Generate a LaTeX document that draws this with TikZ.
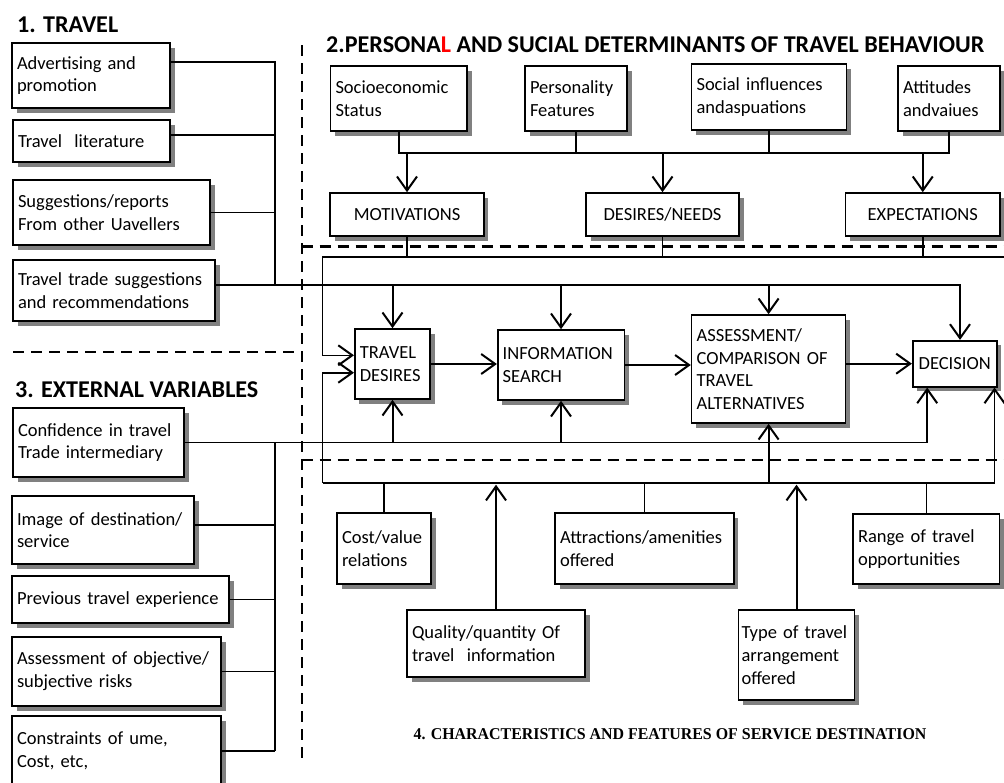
\documentclass[tikz,border=0pt]{standalone}
\usepackage{fontspec}
\setmainfont{Carlito}
\newfontfamily\destfont{Liberation Serif}
\usetikzlibrary{arrows.meta,shadows}
\newcommand{\body}{\fontsize{18.5}{22.7}\selectfont}
\newcommand{\headfont}{\fontsize{24.1}{28}\selectfont\bfseries}

\begin{document}
\begin{tikzpicture}[x=1pt, y=-1pt, >={Straight Barb[length=14pt,width=20pt,line width=2pt]},
  box/.style={draw, fill=white, line width=1.6pt, inner xsep=5pt, inner ysep=2pt, align=left, font=\body,
    drop shadow={shadow xshift=4.5pt, shadow yshift=-4.5pt, fill=black!50, opacity=1}},
  cbox/.style={box, align=center},
  heading/.style={font=\headfont, anchor=west, inner sep=0pt},
  link/.style={line width=1.6pt},
  arr/.style={->, line width=2pt},
  divider/.style={line width=2.2pt, dash pattern=on 11pt off 7pt}]
\useasboundingbox (0,0) rectangle (1004,782);
%
% 1. travel
\node[heading] (hTravel) at (17,25) {1. TRAVEL};
\node[box, text width=148pt, minimum height=65pt] (adv) at (91,75.5) {Advertising and\\promotion};
\node[box, text width=147pt, minimum height=42pt] (lit) at (91.5,141) {Travel\ \ literature};
\node[box, text width=187pt, minimum height=65pt] (sug) at (111.5,212.5) {Suggestions/reports\\From other Uavellers};
\node[box, text width=192pt, minimum height=61pt] (trade) at (114,290.5) {Travel trade suggestions\\and recommendations};
%
% 2. personal and social determinants
\node[heading] (hPersonal) at (326,44.5) {2.PERSONA{\color{red}L} AND SUCIAL DETERMINANTS OF TRAVEL BEHAVIOUR};
\node[box, text width=126.5pt, minimum height=65pt] (socio) at (398.75,98.5) {Socioeconomic\\Status};
\node[box, text width=92pt, minimum height=65pt] (pers) at (576,98.5) {Personality\\Features};
\node[box, text width=145pt, minimum height=66pt] (social) at (769,97) {Social influences\\andaspuations};
\node[box, text width=92pt, minimum height=65pt] (att) at (949,98.5) {Attitudes\\andvaiues};
\node[cbox, minimum width=153.5pt, minimum height=43pt] (mot) at (407,214.5) {MOTIVATIONS};
\node[cbox, minimum width=153pt, minimum height=43pt] (need) at (662.5,214.5) {DESIRES/NEEDS};
\node[cbox, minimum width=154.5pt, minimum height=43pt] (expect) at (922.75,214.5) {EXPECTATIONS};
\node[box, text width=65.4pt, minimum height=70pt] (desire) at (392.5,364) {TRAVEL\\DESIRES};
\node[box, text width=116.6pt, minimum height=70pt] (search) at (561,365) {INFORMATION\\SEARCH};
\node[box, text width=144pt, minimum height=108pt] (assess) at (768.6,369) {ASSESSMENT/\\COMPARISON OF\\TRAVEL\\ALTERNATIVES};
\node[cbox, minimum width=84pt, minimum height=46pt] (decide) at (954.7,363.7) {DECISION};
%
% 3. external variables
\node[heading] (hExternal) at (15,389.5) {3. EXTERNAL VARIABLES};
\node[box, text width=161pt, minimum height=69pt] (conf) at (98.5,442.5) {Confidence in travel\\Trade intermediary};
\node[box, text width=172pt, minimum height=68pt] (img) at (103,530) {Image of destination/\\service};
\node[box, text width=207pt, minimum height=47pt] (prev) at (120.5,599.5) {Previous travel experience};
\node[box, text width=199pt, minimum height=69pt] (risk) at (116.5,671.5) {Assessment of objective/\\subjective risks};
\node[box, text width=199pt, minimum height=70pt] (cons) at (116.5,751) {Constraints of ume,\\Cost, etc,};
%
% 4. characteristics of the destination
\node[box, text width=84pt, minimum height=71pt] (cost) at (384,548.5) {Cost/value\\relations};
\node[box, text width=168.8pt, minimum height=71pt] (attr) at (644.4,548.5) {Attractions/amenities\\offered};
\node[box, text width=136.6pt, minimum height=70pt] (opps) at (926.3,549) {Range of travel\\opportunities};
\node[box, text width=168pt, minimum height=67pt] (qual) at (496,643.5) {Quality/quantity Of\\travel\ \ information};
\node[box, inner xsep=3pt, text width=110pt, minimum height=90pt] (kind) at (796.5,655) {Type of travel\\arrangement\\offered};
\node[inner sep=0pt, font=\fontsize{16.5}{19}\selectfont\destfont\bfseries] (hService) at (670,734)
  {\scalebox{0.965}[1]{4. CHARACTERISTICS AND FEATURES OF SERVICE DESTINATION}};
%
% dashed borders
\draw[divider] (301.7,45) -- (301.7,763);
\draw[divider] (13,352) -- (301.7,352);
\draw[divider] (301.7,246.5) -- (1004,246.5);
\draw[divider] (301.7,460) -- (1004,460);
%
% travel sources
\coordinate (b1top) at (275,62);
\coordinate (b1bot) at (275,285);
\draw[link] (adv.east |- b1top) -- (b1top) -- (b1bot);
\draw[link] ([yshift=6pt]lit.east) -- ([yshift=6pt]lit.east -| b1top);
\draw[link] (sug.east) -- (sug.east -| b1top);
\draw[link, ->] (trade.east |- b1bot) -| ([xshift=5.3pt]decide.north);
\draw[arr] (desire.north |- b1bot) -- (desire.north);
\draw[arr] (search.north |- b1bot) -- (search.north);
\draw[arr] (assess.north |- b1bot) -- (assess.north);
%
% determinants
\coordinate (b2) at (0,153);
\draw[link] (socio.south) -- (socio.south |- b2) -- (att.south |- b2) -- (att.south);
\draw[link] (pers.south) -- (pers.south |- b2);
\draw[link] (social.south) -- (social.south |- b2);
\draw[arr] (mot.north |- b2) -- (mot.north);
\draw[arr] (need.north |- b2) -- (need.north);
\draw[arr] (expect.north |- b2) -- (expect.north);
\coordinate (b3L) at (322.5,257);
\coordinate (b3R) at (1004,257);
\draw[link] (mot.south) -- (mot.south |- b3L);
\draw[link] (need.south) -- (need.south |- b3L);
\draw[link] (expect.south) -- (expect.south |- b3L);
\draw[link, ->] (b3R) -- (b3L) |- ([yshift=8.7pt]desire.west);
%
% decision process
\draw[arr] (desire.east) -- (desire.east -| search.west);
\draw[arr] (search.east) -- (search.east -| assess.west);
\draw[arr] (decide.west -| assess.east) -- (decide.west);
%
% external variables
\coordinate (b4) at (275,0);
\draw[link, ->] (conf.east) -| ([xshift=-27.5pt]decide.south);
\draw[arr] (desire.south |- conf.east) -- (desire.south);
\draw[arr] (search.south |- conf.east) -- (search.south);
\draw[link] (conf.east -| b4) -- (cons.east -| b4);
\draw[link] ([yshift=5pt]img.east) -- ([yshift=5pt]img.east -| b4);
\draw[link] (prev.east) -- (prev.east -| b4);
\draw[link] (risk.east) -- (risk.east -| b4);
\draw[link] (cons.east) -- (cons.east -| b4);
%
% destination features
\coordinate (b5L) at (322.5,482.7);
\draw[link, ->] (b5L) |- ([yshift=-8.7pt]desire.west);
\draw[link, ->] (b5L) -| ([xshift=-3pt]decide.south east);
\draw[arr] (assess.south |- b5L) -- (assess.south);
\draw[link] (cost.north) -- (cost.north |- b5L);
\draw[link] (attr.north) -- (attr.north |- b5L);
\draw[link] (opps.north) -- (opps.north |- b5L);
\draw[arr, shorten >=2pt] (qual.north) -- (qual.north |- b5L);
\draw[arr, shorten >=2pt] (kind.north) -- (kind.north |- b5L);
\end{tikzpicture}
\end{document}
